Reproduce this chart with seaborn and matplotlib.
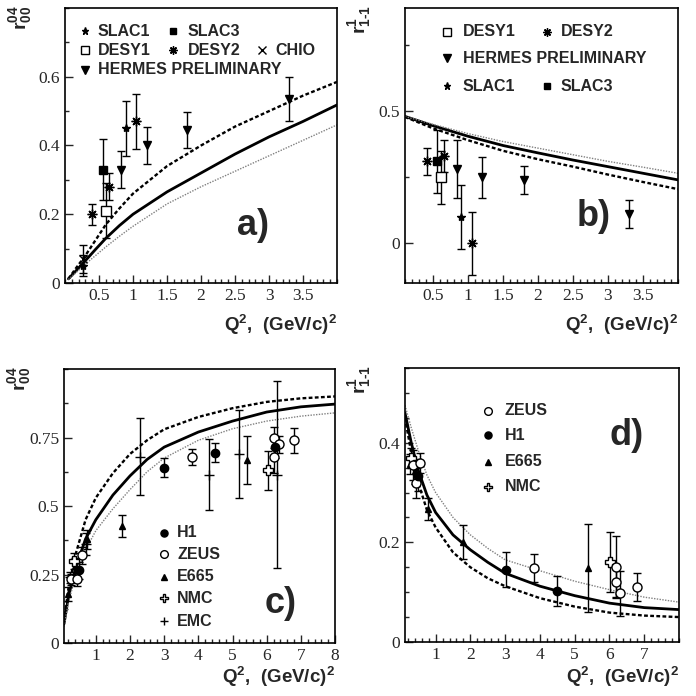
import matplotlib
matplotlib.use("Agg")
import matplotlib.pyplot as plt
from matplotlib.ticker import FixedLocator, MultipleLocator, FormatStrFormatter
import seaborn as sns

# ---------------- data ----------------
# panel a) r04_00 vs Q2 (low Q2)
a_q = [0.05, 0.15, 0.3, 0.45, 0.6, 0.8, 1.0, 1.5, 2.0, 2.5, 3.0, 3.5, 4.0]
a_solid = [0.012, 0.033, 0.065, 0.098, 0.13, 0.167, 0.20, 0.265, 0.32, 0.375, 0.425, 0.47, 0.518]
a_dashed = [0.012, 0.04, 0.08, 0.125, 0.17, 0.217, 0.26, 0.34, 0.40, 0.455, 0.50, 0.545, 0.585]
a_dotted = [0.01, 0.028, 0.055, 0.08, 0.105, 0.136, 0.165, 0.23, 0.28, 0.325, 0.37, 0.415, 0.46]

a_slac1_q, a_slac1_v, a_slac1_e = [0.26, 0.90], [0.05, 0.45], [0.03, 0.08]
a_slac3_q, a_slac3_v, a_slac3_e = [0.56], [0.33], [0.09]
a_desy1_q, a_desy1_v, a_desy1_e = [0.60], [0.21], [0.08]
a_desy2_q, a_desy2_v, a_desy2_e = [0.39, 0.65, 1.05], [0.20, 0.28, 0.47], [0.03, 0.04, 0.08]
a_chio_q, a_chio_v, a_chio_e = [0.26], [0.07], [0.04]
a_herm_q, a_herm_v, a_herm_e = [0.83, 1.2, 1.8, 3.3], [0.33, 0.40, 0.445, 0.535], [0.055, 0.055, 0.053, 0.063]

# panel b) r1_1-1 vs Q2 (low Q2)
b_q = [0.1, 0.5, 1.0, 1.5, 2.0, 2.5, 3.0, 3.5, 4.0]
b_solid = [0.48, 0.445, 0.405, 0.37, 0.342, 0.315, 0.29, 0.265, 0.24]
b_dotted = [0.48, 0.45, 0.415, 0.385, 0.36, 0.335, 0.31, 0.288, 0.265]
b_dashed = [0.478, 0.435, 0.39, 0.35, 0.318, 0.29, 0.26, 0.232, 0.205]

b_desy1_q, b_desy1_v, b_desy1_e = [0.61], [0.25], [0.10]
b_desy2_q, b_desy2_v, b_desy2_e = [0.41, 0.66, 1.06], [0.31, 0.33, 0.0], [0.05, 0.06, 0.12]
b_herm_q, b_herm_v, b_herm_e = [0.84, 1.2, 1.8, 3.3], [0.28, 0.25, 0.24, 0.11], [0.11, 0.077, 0.053, 0.053]
b_slac1_q, b_slac1_v, b_slac1_e = [0.90], [0.10], [0.12]
b_slac3_q, b_slac3_v, b_slac3_e = [0.56], [0.31], [0.12]

# panel c) r04_00 vs Q2 (wide range)
c_q = [0.07, 0.2, 0.4, 0.7, 1.0, 1.5, 2.0, 2.5, 3.0, 4.0, 5.0, 6.0, 7.0, 8.0]
c_solid = [0.07, 0.17, 0.27, 0.38, 0.45, 0.54, 0.61, 0.67, 0.715, 0.77, 0.81, 0.843, 0.862, 0.872]
c_dashed = [0.08, 0.2, 0.32, 0.45, 0.53, 0.62, 0.69, 0.74, 0.78, 0.825, 0.857, 0.88, 0.893, 0.90]
c_dotted = [0.06, 0.15, 0.24, 0.34, 0.41, 0.49, 0.56, 0.625, 0.675, 0.74, 0.782, 0.81, 0.828, 0.84]

c_h1_q, c_h1_v, c_h1_e = [0.5, 3.0, 4.5, 6.25], [0.265, 0.64, 0.695, 0.715], [0.03, 0.035, 0.035, 0.04]
c_zeus_q = [0.27, 0.46, 0.6, 3.8, 6.2, 6.2, 6.35, 6.8]
c_zeus_v = [0.232, 0.232, 0.32, 0.678, 0.75, 0.68, 0.725, 0.74]
c_zeus_e = [0.02, 0.025, 0.03, 0.03, 0.04, 0.06, 0.03, 0.045]
c_e665_q, c_e665_v, c_e665_e = [0.19, 0.4, 0.75, 1.76, 5.42], [0.18, 0.28, 0.378, 0.428, 0.668], [0.025, 0.03, 0.035, 0.04, 0.086]
c_nmc_q, c_nmc_v, c_nmc_e = [0.35, 6.03], [0.30, 0.63], [0.03, 0.07]
c_emc_q = [0.25, 0.7, 2.3, 4.3, 5.2, 6.3]
c_emc_v = [0.24, 0.36, 0.68, 0.615, 0.69, 0.615]
c_emc_e = [0.02, 0.04, 0.14, 0.13, 0.16, 0.34]

# panel d) r1_1-1 vs Q2 (wide range)
d_q = [0.12, 0.3, 0.5, 0.75, 1.0, 1.5, 2.0, 2.5, 3.0, 4.0, 5.0, 6.0, 7.0, 8.0]
d_solid = [0.46, 0.40, 0.345, 0.295, 0.26, 0.215, 0.185, 0.16, 0.138, 0.112, 0.093, 0.078, 0.069, 0.065]
d_dashed = [0.45, 0.38, 0.32, 0.265, 0.23, 0.18, 0.15, 0.128, 0.112, 0.088, 0.071, 0.059, 0.053, 0.05]
d_dotted = [0.475, 0.43, 0.385, 0.335, 0.30, 0.25, 0.215, 0.188, 0.165, 0.143, 0.122, 0.105, 0.09, 0.08]

d_zeus_q = [0.35, 0.44, 0.55, 3.82, 6.2, 6.2, 6.3, 6.8]
d_zeus_v = [0.355, 0.32, 0.36, 0.149, 0.15, 0.12, 0.098, 0.11]
d_zeus_e = [0.03, 0.03, 0.02, 0.028, 0.062, 0.03, 0.045, 0.028]
d_h1_q, d_h1_v, d_h1_e = [0.5, 3.02, 4.5], [0.333, 0.145, 0.102], [0.03, 0.035, 0.03]
d_e665_q, d_e665_v, d_e665_e = [0.25, 0.4, 0.78, 1.79, 5.39], [0.358, 0.343, 0.267, 0.20, 0.149], [0.02, 0.025, 0.022, 0.034, 0.088]
d_nmc_q, d_nmc_v, d_nmc_e = [0.3, 6.01], [0.37, 0.16], [0.02, 0.06]

# ---------------- style ----------------
sns.set_style("ticks")
plt.rcParams["font.family"] = ["Liberation Serif", "DejaVu Serif"]
plt.rcParams["mathtext.fontset"] = "custom"
plt.rcParams["mathtext.rm"] = "Liberation Sans:bold"
plt.rcParams["mathtext.bf"] = "Liberation Sans:bold"
plt.rcParams["mathtext.it"] = "Liberation Sans:bold"

SANS = "Liberation Sans"

# marker styles per experiment
STY = {
    "SLAC1": dict(marker="*", ms=6, mfc="k"),
    "SLAC3": dict(marker="s", ms=5.5, mfc="k"),
    "DESY1": dict(marker="s", ms=6.5, mfc="white"),
    "DESY2": dict(marker=(8, 2, 0), ms=7, mfc="k"),
    "CHIO": dict(marker="x", ms=6, mfc="k"),
    "HERMES": dict(marker="v", ms=6, mfc="k"),
    "H1": dict(marker="o", ms=6, mfc="k"),
    "ZEUS": dict(marker="o", ms=6.5, mfc="white"),
    "E665": dict(marker="^", ms=5, mfc="k"),
    "NMC": dict(marker="P", ms=7.5, mfc="white"),
    "EMC": dict(marker="+", ms=7, mfc="k"),
}


def draw_points(ax, name, q, v, e):
    s = STY[name]
    ax.errorbar(q, v, yerr=e, fmt="none", ecolor="k", elinewidth=1,
                capsize=3, capthick=1, zorder=3)
    ax.plot(q, v, linestyle="none", marker=s["marker"], ms=s["ms"],
            mfc=s["mfc"], mec="k", mew=1, zorder=4)


def draw_curves(ax, q, solid, dashed, dotted):
    sns.lineplot(x=q, y=solid, ax=ax, color="k", lw=2, errorbar=None)
    sns.lineplot(x=q, y=dashed, ax=ax, color="k", lw=1.7,
                 linestyle=(0, (1.6, 1.0)), errorbar=None)
    sns.lineplot(x=q, y=dotted, ax=ax, color="0.5", lw=1.0,
                 linestyle=(0, (1, 1)), errorbar=None)


def legend_entry(ax, x, y, name, label, tx):
    s = STY[name]
    ax.plot([x], [y], transform=ax.transAxes, linestyle="none",
            marker=s["marker"], ms=s["ms"] * 0.85, mfc=s["mfc"], mec="k",
            mew=1, clip_on=False)
    ax.text(tx, y, label, transform=ax.transAxes, ha="left", va="center",
            fontsize=11.5, fontweight="bold", family=SANS)


def style_axes(ax, xlim, ylim, xmaj, xmin, ymaj, ymin, ylab, panel, px, py, xl_y):
    ax.set_xlim(*xlim)
    ax.set_ylim(*ylim)
    ax.xaxis.set_major_locator(FixedLocator(xmaj))
    ax.xaxis.set_minor_locator(MultipleLocator(xmin))
    ax.yaxis.set_major_locator(FixedLocator(ymaj))
    ax.yaxis.set_minor_locator(MultipleLocator(ymin))
    ax.xaxis.set_major_formatter(FormatStrFormatter("%g"))
    ax.yaxis.set_major_formatter(FormatStrFormatter("%g"))
    ax.tick_params(which="both", direction="in", top=False, right=False,
                   labelsize=12.5, width=1)
    ax.tick_params(which="major", length=6)
    ax.tick_params(which="minor", length=3)
    for sp in ax.spines.values():
        sp.set_visible(True)
        sp.set_linewidth(1.2)
        sp.set_color("k")
    ax.set_xlabel("")
    ax.set_ylabel("")
    ax.text(1.0, xl_y, r"Q$^{2}$,  (GeV/c)$^{2}$", transform=ax.transAxes,
            ha="right", va="center", fontsize=13.5, fontweight="bold", family=SANS)
    ax.text(-0.165, 1.01, ylab, transform=ax.transAxes, rotation=90,
            ha="center", va="top", fontsize=14, fontweight="bold", family=SANS)
    ax.text(px, py, panel, transform=ax.transAxes, ha="center", va="center",
            fontsize=26, fontweight="bold", family=SANS)


fig = plt.figure(figsize=(6.96, 6.96), dpi=100)
ax_a = fig.add_axes([0.0934, 0.5934, 0.3908, 0.3951])
ax_b = fig.add_axes([0.5819, 0.5934, 0.3922, 0.3951])
ax_c = fig.add_axes([0.0920, 0.0761, 0.3894, 0.3937])
ax_d = fig.add_axes([0.5819, 0.0776, 0.3937, 0.3937])

# ---- a)
draw_curves(ax_a, a_q, a_solid, a_dashed, a_dotted)
draw_points(ax_a, "CHIO", a_chio_q, a_chio_v, a_chio_e)
draw_points(ax_a, "SLAC1", a_slac1_q, a_slac1_v, a_slac1_e)
draw_points(ax_a, "SLAC3", a_slac3_q, a_slac3_v, a_slac3_e)
draw_points(ax_a, "DESY1", a_desy1_q, a_desy1_v, a_desy1_e)
draw_points(ax_a, "DESY2", a_desy2_q, a_desy2_v, a_desy2_e)
draw_points(ax_a, "HERMES", a_herm_q, a_herm_v, a_herm_e)
style_axes(ax_a, (0, 4.0), (0, 0.8), [0.5, 1, 1.5, 2, 2.5, 3, 3.5], 0.1,
           [0, 0.2, 0.4, 0.6], 0.1, r"r$^{04}_{00}$", "a)", 0.69, 0.21, -0.153)
legend_entry(ax_a, 0.074, 0.916, "SLAC1", "SLAC1", 0.121)
legend_entry(ax_a, 0.397, 0.916, "SLAC3", "SLAC3", 0.452)
legend_entry(ax_a, 0.074, 0.847, "DESY1", "DESY1", 0.121)
legend_entry(ax_a, 0.397, 0.847, "DESY2", "DESY2", 0.452)
legend_entry(ax_a, 0.724, 0.847, "CHIO", "CHIO", 0.772)
legend_entry(ax_a, 0.074, 0.775, "HERMES", "HERMES PRELIMINARY", 0.121)

# ---- b)
draw_curves(ax_b, b_q, b_solid, b_dashed, b_dotted)
draw_points(ax_b, "DESY1", b_desy1_q, b_desy1_v, b_desy1_e)
draw_points(ax_b, "DESY2", b_desy2_q, b_desy2_v, b_desy2_e)
draw_points(ax_b, "SLAC1", b_slac1_q, b_slac1_v, b_slac1_e)
draw_points(ax_b, "SLAC3", b_slac3_q, b_slac3_v, b_slac3_e)
draw_points(ax_b, "HERMES", b_herm_q, b_herm_v, b_herm_e)
style_axes(ax_b, (0.1, 4.0), (-0.15, 0.89), [0.5, 1, 1.5, 2, 2.5, 3, 3.5], 0.1,
           [0, 0.5], 0.25, r"r$^{1}_{1\text{-}1}$", "b)", 0.69, 0.24, -0.153)
legend_entry(ax_b, 0.154, 0.913, "DESY1", "DESY1", 0.212)
legend_entry(ax_b, 0.520, 0.913, "DESY2", "DESY2", 0.571)
legend_entry(ax_b, 0.154, 0.818, "HERMES", "HERMES PRELIMINARY", 0.212)
legend_entry(ax_b, 0.154, 0.716, "SLAC1", "SLAC1", 0.212)
legend_entry(ax_b, 0.520, 0.716, "SLAC3", "SLAC3", 0.571)

# ---- c)
draw_curves(ax_c, c_q, c_solid, c_dashed, c_dotted)
draw_points(ax_c, "EMC", c_emc_q, c_emc_v, c_emc_e)
draw_points(ax_c, "E665", c_e665_q, c_e665_v, c_e665_e)
draw_points(ax_c, "NMC", c_nmc_q, c_nmc_v, c_nmc_e)
draw_points(ax_c, "ZEUS", c_zeus_q, c_zeus_v, c_zeus_e)
draw_points(ax_c, "H1", c_h1_q, c_h1_v, c_h1_e)
style_axes(ax_c, (0.07, 8.0), (0, 1.0), [1, 2, 3, 4, 5, 6, 7, 8], 0.2,
           [0, 0.25, 0.5, 0.75], 0.125, r"r$^{04}_{00}$", "c)", 0.80, 0.146, -0.123)
legend_entry(ax_c, 0.369, 0.403, "H1", "H1", 0.417)
legend_entry(ax_c, 0.369, 0.324, "ZEUS", "ZEUS", 0.417)
legend_entry(ax_c, 0.369, 0.242, "E665", "E665", 0.417)
legend_entry(ax_c, 0.369, 0.163, "NMC", "NMC", 0.417)
legend_entry(ax_c, 0.369, 0.080, "EMC", "EMC", 0.417)

# ---- d)
draw_curves(ax_d, d_q, d_solid, d_dashed, d_dotted)
draw_points(ax_d, "E665", d_e665_q, d_e665_v, d_e665_e)
draw_points(ax_d, "NMC", d_nmc_q, d_nmc_v, d_nmc_e)
draw_points(ax_d, "ZEUS", d_zeus_q, d_zeus_v, d_zeus_e)
draw_points(ax_d, "H1", d_h1_q, d_h1_v, d_h1_e)
style_axes(ax_d, (0.12, 8.0), (0, 0.55), [1, 2, 3, 4, 5, 6, 7], 0.2,
           [0, 0.2, 0.4], 0.05, r"r$^{1}_{1\text{-}1}$", "d)", 0.81, 0.755, -0.127)
legend_entry(ax_d, 0.303, 0.844, "ZEUS", "ZEUS", 0.364)
legend_entry(ax_d, 0.303, 0.755, "H1", "H1", 0.364)
legend_entry(ax_d, 0.303, 0.658, "E665", "E665", 0.364)
legend_entry(ax_d, 0.303, 0.567, "NMC", "NMC", 0.364)

fig.savefig("out.png", dpi=100)
